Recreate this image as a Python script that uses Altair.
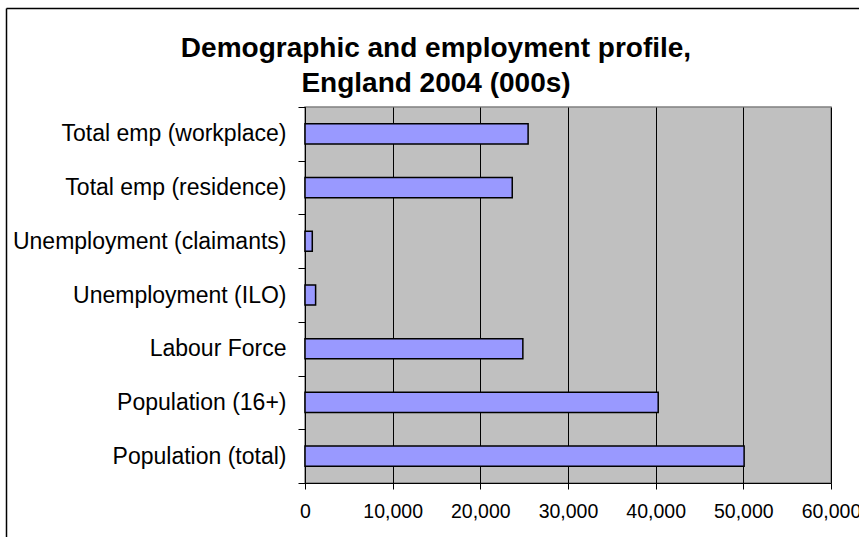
import altair as alt
import pandas as pd

categories = [
    "Total emp (workplace)",
    "Total emp (residence)",
    "Unemployment (claimants)",
    "Unemployment (ILO)",
    "Labour Force",
    "Population (16+)",
    "Population (total)",
]
values = [25450, 23640, 830, 1210, 24850, 40290, 50090]
x_ticks = [0, 10000, 20000, 30000, 40000, 50000, 60000]
title_line1 = "Demographic and employment profile,"
title_line2 = "England 2004 (000s)"

df = pd.DataFrame({"category": categories, "value": values})
FONT = "Liberation Sans"

bars = alt.Chart(df).mark_bar(
    color="#9999FF", stroke="#000000", strokeWidth=1.5,
    height=alt.RelativeBandSize(0.375),
).encode(
    x=alt.X(
        "value:Q",
        scale=alt.Scale(domain=[0, 60000], nice=False, zero=True),
        axis=alt.Axis(
            title=None, values=x_ticks, format=",.0f", grid=True,
            gridColor="#000000", gridWidth=1, gridOpacity=1,
            domainColor="#000000", tickColor="#000000", tickSize=6,
            labelFont=FONT, labelFontSize=19.5, labelColor="#000000",
            labelPadding=13, labelFlush=False, labelOverlap=False,
        ),
    ),
    y=alt.Y(
        "category:N",
        sort=categories,
        scale=alt.Scale(paddingInner=0, paddingOuter=0),
        axis=alt.Axis(
            title=None, grid=False, tickBand="extent",
            domainColor="#000000", tickColor="#000000", tickSize=7,
            labelFont=FONT, labelFontSize=23, labelColor="#000000",
            labelPadding=12, labelLimit=400,
        ),
    ),
)

one = pd.DataFrame({"k": [0]})
left_border = alt.Chart(one).mark_rule(color="#000000", strokeWidth=1.5).encode(
    x=alt.value(-298.5), y=alt.value(-98.5), y2=alt.value(450)
)
top_border = alt.Chart(one).mark_rule(color="#000000", strokeWidth=1.5).encode(
    x=alt.value(-298.5), x2=alt.value(580), y=alt.value(-98.5)
)
title1 = alt.Chart(one).mark_text(
    text=title_line1, font=FONT, fontSize=28, fontWeight="bold",
    color="#000000", align="center", baseline="alphabetic",
).encode(x=alt.value(131), y=alt.value(-50.3))
title2 = alt.Chart(one).mark_text(
    text=title_line2, font=FONT, fontSize=28, fontWeight="bold",
    color="#000000", align="center", baseline="alphabetic",
).encode(x=alt.value(131), y=alt.value(-15.3))

chart = alt.layer(bars, left_border, top_border, title1, title2).properties(
    width=526,
    height=376,
    autosize=alt.AutoSizeParams(type="none"),
    padding={"left": 305, "top": 107, "right": 28, "bottom": 54},
).configure_view(
    fill="#C0C0C0", stroke="#808080", strokeWidth=1.5
)

chart.save("out.html", embed_options={"renderer": "svg", "actions": False})
